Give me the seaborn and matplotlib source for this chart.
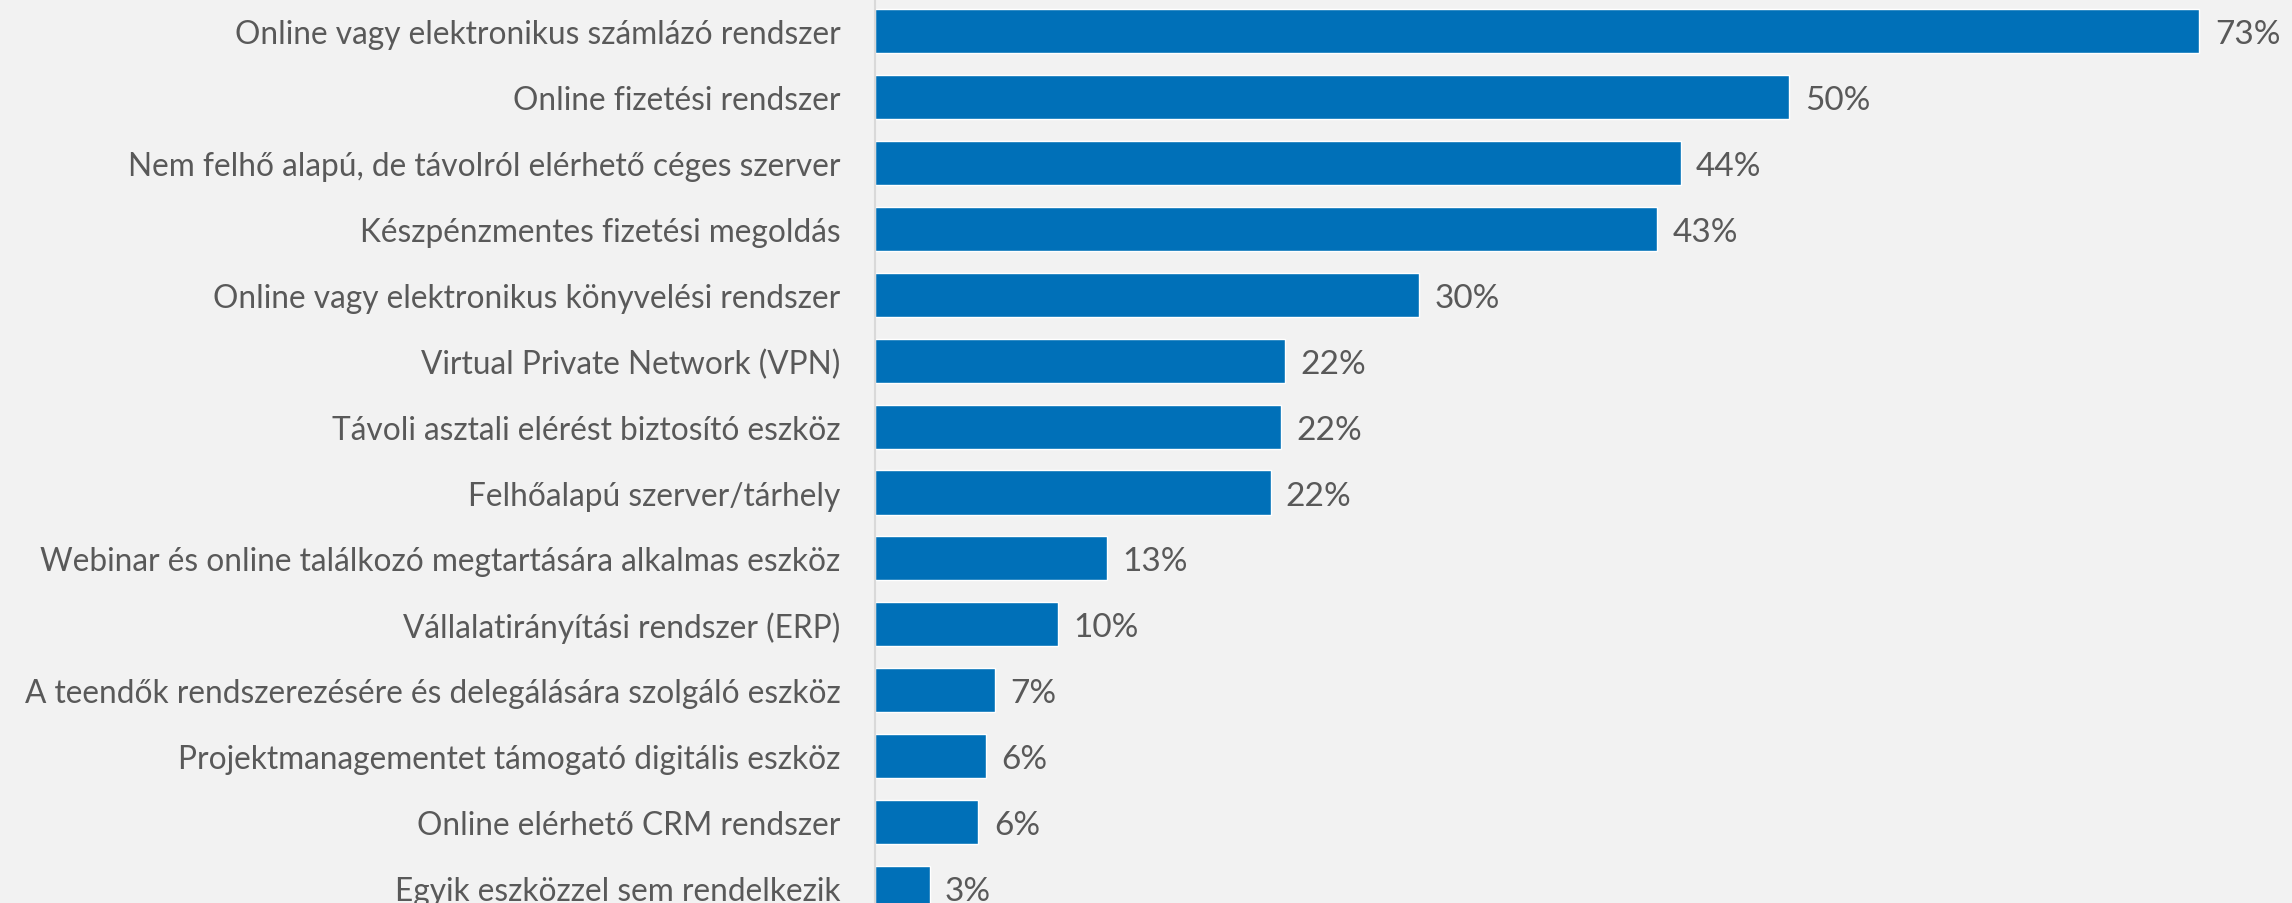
import matplotlib
matplotlib.use('Agg')
import matplotlib.pyplot as plt
import seaborn as sns
import pandas as pd

# Categories and values (bar lengths in %)
categories = [
    'Online vagy elektronikus számlázó rendszer',
    'Online fizetési rendszer',
    'Nem felhő alapú, de távolról elérhető céges szerver',
    'Készpénzmentes fizetési megoldás',
    'Online vagy elektronikus könyvelési rendszer',
    'Virtual Private Network (VPN)',
    'Távoli asztali elérést biztosító eszköz',
    'Felhőalapú szerver/tárhely',
    'Webinar és online találkozó megtartására alkalmas eszköz',
    'Vállalatirányítási rendszer (ERP)',
    'A teendők rendszerezésére és delegálására szolgáló eszköz',
    'Projektmanagementet támogató digitális eszköz',
    'Online elérhető CRM rendszer',
    'Egyik eszközzel sem rendelkezik',
]
values = [73.0, 50.4, 44.4, 43.1, 30.0, 22.6, 22.4, 21.8, 12.8, 10.1, 6.6, 6.1, 5.7, 3.0]
value_labels = ['73%', '50%', '44%', '43%', '30%', '22%', '22%', '22%',
                '13%', '10%', '7%', '6%', '6%', '3%']

df = pd.DataFrame({'category': categories, 'value': values})

sns.set_style('white')
plt.rcParams['font.family'] = ['Lato', 'DejaVu Sans']

bg = '#f2f2f2'
bar_color = '#0070b8'
text_color = '#595959'

fig = plt.figure(figsize=(22.92, 9.04), dpi=100)
fig.patch.set_facecolor(bg)
ax = fig.add_axes([0.3818, 0.0, 0.6182, 1.0])
ax.set_facecolor(bg)

sns.barplot(data=df, x='value', y='category', orient='h', color=bar_color,
            width=0.67, saturation=1, ax=ax)

for container in ax.containers:
    labels = ax.bar_label(container, labels=value_labels, padding=11,
                          fontsize=24, color=text_color)
    for t in labels:
        t.set_va('center_baseline')

ax.set_xlim(0, 78.1)
ax.set_ylim(13.23, -0.49)
ax.set_xlabel('')
ax.set_ylabel('')
ax.set_xticks([])
ax.tick_params(axis='y', length=0, pad=25, labelsize=22.8, labelcolor=text_color)

for side in ['top', 'right', 'bottom']:
    ax.spines[side].set_visible(False)
ax.spines['left'].set_color('#d9d9d9')
ax.spines['left'].set_linewidth(1.5)

plt.savefig('out.png', dpi=100, facecolor=bg)
